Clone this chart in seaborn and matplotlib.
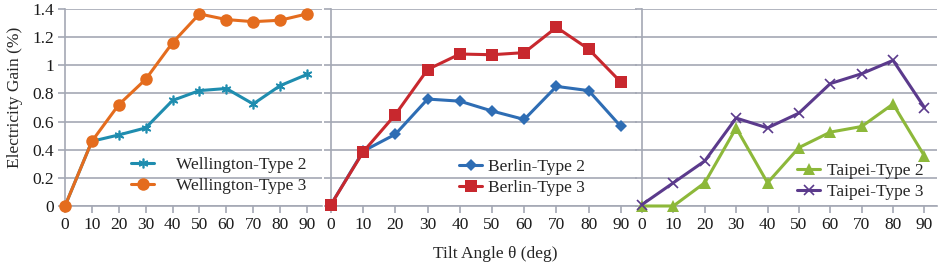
import numpy as np
import pandas as pd
import matplotlib
matplotlib.use("Agg")
import matplotlib.pyplot as plt
import seaborn as sns

angles = [0, 10, 20, 30, 40, 50, 60, 70, 80, 90]

wellington_t2 = [0.0, 0.46, 0.505, 0.555, 0.75, 0.82, 0.835, 0.725, 0.855, 0.935]
wellington_t3 = [0.0, 0.46, 0.72, 0.90, 1.16, 1.365, 1.325, 1.31, 1.32, 1.365]
berlin_t2 = [0.01, 0.39, 0.51, 0.76, 0.745, 0.675, 0.615, 0.85, 0.82, 0.565]
berlin_t3 = [0.01, 0.385, 0.65, 0.97, 1.08, 1.075, 1.09, 1.27, 1.115, 0.88]
taipei_t2 = [0.0, 0.0, 0.165, 0.555, 0.165, 0.415, 0.525, 0.565, 0.725, 0.355]
taipei_t3 = [0.01, 0.165, 0.32, 0.625, 0.555, 0.66, 0.87, 0.94, 1.035, 0.70]

y_ticks = [0, 0.2, 0.4, 0.6, 0.8, 1.0, 1.2, 1.4]
y_tick_labels = ["0", "0.2", "0.4", "0.6", "0.8", "1", "1.2", "1.4"]

panels = [
    ("Wellington-Type 2", wellington_t2, "Wellington-Type 3", wellington_t3),
    ("Berlin-Type 2", berlin_t2, "Berlin-Type 3", berlin_t3),
    ("Taipei-Type 2", taipei_t2, "Taipei-Type 3", taipei_t3),
]

styles = {
    "Wellington-Type 2": dict(color="#1F8DAF", marker=(6, 2, 0), ms=7, mew=1.2),
    "Wellington-Type 3": dict(color="#E46C1E", marker="o", ms=9, mew=0),
    "Berlin-Type 2": dict(color="#2E6DB4", marker="D", ms=6, mew=0),
    "Berlin-Type 3": dict(color="#C8282E", marker="s", ms=9, mew=0),
    "Taipei-Type 2": dict(color="#8DB83A", marker="^", ms=9, mew=0),
    "Taipei-Type 3": dict(color="#5B3A8C", marker="x", ms=7, mew=1.2),
}

sns.set_theme(style="white")
plt.rcParams["font.family"] = ["Liberation Serif", "DejaVu Serif"]

W, H = 939, 268
fig = plt.figure(figsize=(W / 100, H / 100), dpi=100)

y_top_px, y_bot_px = 9, 206
# (left px, right px, xlim max)
boxes = [(65, 322, 95.6), (331, 637, 95.0), (642, 937, 94.0)]
legend_pos = [(131, 157), (459, 159), (797, 163)]
text_pads = [1.25, 0.3, 0.35]
grid_col = "#A4A8B4"

for i, ((n2, v2, n3, v3), (lpx, rpx, xmax)) in enumerate(zip(panels, boxes)):
    ax = fig.add_axes([lpx / W, 1 - y_bot_px / H, (rpx - lpx) / W, (y_bot_px - y_top_px) / H])
    df = pd.DataFrame({
        "angle": angles * 2,
        "gain": v2 + v3,
        "series": [n2] * len(angles) + [n3] * len(angles),
    })
    for name in (n2, n3):
        st = styles[name]
        sub = df[df["series"] == name]
        sns.lineplot(data=sub, x="angle", y="gain", ax=ax, color=st["color"],
                     marker=st["marker"], markersize=st["ms"], markeredgewidth=st["mew"],
                     markeredgecolor=st["color"], linewidth=2.2, label=name,
                     clip_on=False, zorder=3)
    ax.set_xlim(0, xmax)
    ax.set_ylim(0, 1.4)
    ax.set_xticks(angles)
    ax.set_xticklabels([str(a) for a in angles], fontsize=12.5)
    ax.set_yticks(y_ticks)
    if i == 0:
        ax.set_yticklabels(y_tick_labels, fontsize=12.5)
    else:
        ax.set_yticklabels([])
    ax.set_xlabel("")
    ax.set_ylabel("")
    ax.grid(axis="y", color=grid_col, linewidth=1.2)
    ax.set_axisbelow(True)
    for s in ("top", "right"):
        ax.spines[s].set_visible(False)
    for s in ("left", "bottom"):
        ax.spines[s].set_color(grid_col)
        ax.spines[s].set_linewidth(1.2)
    ax.tick_params(axis="both", direction="out", length=5, width=1.2,
                   colors="#1a1a1a", pad=3, left=True, bottom=True)
    ax.tick_params(axis="both", color=grid_col)
    ax.set_facecolor("none")
    lx, ly = legend_pos[i]
    ax.legend(loc="upper left", bbox_to_anchor=(lx / W, 1 - ly / H),
              bbox_transform=fig.transFigure, frameon=False, fontsize=12.5,
              handlelength=1.35, handletextpad=text_pads[i],
              labelspacing=0.28, borderpad=0, borderaxespad=0)

fig.text(15 / W, 1 - 97 / H, "Electricity Gain (%)", rotation=90, ha="center", va="center",
         fontsize=12.5)
fig.text(495 / W, 1 - 254 / H, "Tilt Angle θ (deg)", ha="center", va="center", fontsize=12.5)

fig.savefig("out.png", dpi=100)
